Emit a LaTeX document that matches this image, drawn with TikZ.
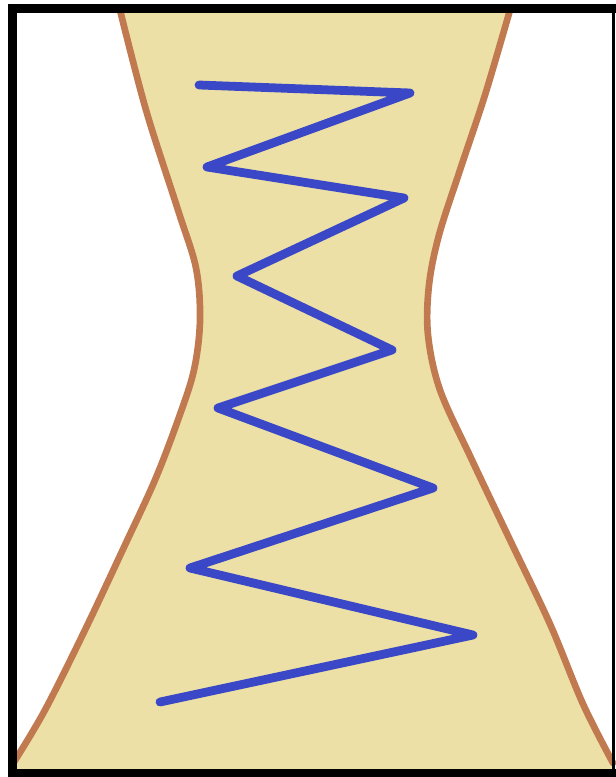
\documentclass[tikz,border=0pt]{standalone}
\usetikzlibrary{calc}

\definecolor{sandfill}{HTML}{EDE0A6}
\definecolor{wallbrown}{HTML}{C17A50}
\definecolor{springblue}{HTML}{3A48C8}

\begin{document}
\begin{tikzpicture}[
		x=0.02cm, y=-0.02cm,
		sand/.style={fill=sandfill, draw=none},
		wall/.style={draw=wallbrown, line width=3.8pt, line cap=round, line join=round},
		spring/.style={draw=springblue, line width=5pt, line cap=round, line join=round},
		frameline/.style={draw=black, line cap=rect}
		]
		
		\useasboundingbox (0,0) rectangle (615,777);
		
		% 1. Sand-coloured waist region
		\fill[sand] plot[smooth, tension=0.55] coordinates {(120,10) (146,110) (178,210) (196,268) (200,320) (194,370) (178,420) (155,480) (125,545) (85,630) (45,710) (14,762)}
			-- (14,772) -- (613,772) -- (613,763)
			-- plot[smooth, tension=0.55] coordinates {(613,763) (583,704) (550,624) (510,540) (471,458) (440,390) (428,335) (429,285) (439,235) (460,170) (485,95) (510,10)}
			-- cycle;
		
		% 2. Walls
		\draw[wall] plot[smooth, tension=0.55] coordinates {(120,10) (146,110) (178,210) (196,268) (200,320) (194,370) (178,420) (155,480) (125,545) (85,630) (45,710) (14,762)};
		\draw[wall] plot[smooth, tension=0.55] coordinates {(510,10) (485,95) (460,170) (439,235) (429,285) (428,335) (440,390) (471,458) (510,540) (550,624) (583,704) (613,763)};
		
		% 3. Zigzag
		\draw[spring] (199,85) -- (410,93) -- (207,167) -- (404,198) -- (237,276) -- (392,350)
			-- (218,408) -- (433,488) -- (190,568) -- (473,635) -- (160,702);
		
		% 4. Frame
		\draw[frameline, line width=5.1pt] (12.5,8.5) -- (12.5,773);
		\draw[frameline, line width=5.1pt] (12.5,8.5) -- (613,8.5);
		\draw[frameline, line width=4.5pt] (12.5,773) -- (613,773);
		\draw[frameline, line width=1.2pt] (613.5,8.5) -- (613.5,773);
		
	\end{tikzpicture}
\end{document}
